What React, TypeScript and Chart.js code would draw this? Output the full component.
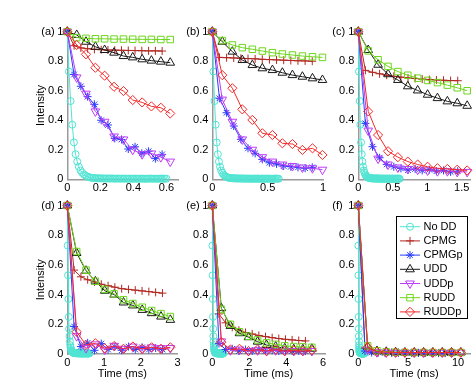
import React, { useEffect, useRef } from 'react';
import { Chart, registerables } from 'chart.js';

Chart.register(...registerables);

// ---------------- DATA ----------------
const SERIES_NAMES = ['No DD', 'CPMG', 'CPMGp', 'UDD', 'UDDp', 'RUDD', 'RUDDp'];
const Y_TICKS = [0, 0.2, 0.4, 0.6, 0.8, 1];

// No DD (same in every panel)
const NODD_T = [
  0, 0.01, 0.02, 0.03, 0.04, 0.05, 0.06, 0.07, 0.08, 0.09,
  0.1, 0.11, 0.12, 0.13, 0.14, 0.15, 0.16, 0.17, 0.18, 0.19,
  0.2, 0.21, 0.22, 0.23, 0.24, 0.25, 0.26, 0.27, 0.28, 0.29,
  0.3, 0.31, 0.32, 0.33, 0.34, 0.35, 0.36, 0.37, 0.38, 0.39,
  0.4, 0.41, 0.42, 0.43, 0.44, 0.45, 0.46, 0.47, 0.48, 0.49,
  0.5, 0.51, 0.52, 0.53, 0.54, 0.55, 0.56, 0.57, 0.58, 0.59,
  0.6,
];
const NODD = [
  1, 0.73, 0.53, 0.37, 0.25, 0.17, 0.12, 0.085, 0.06, 0.045,
  0.033, 0.025, 0.019, 0.015, 0.012, 0.01, 0.009, 0.008, 0.007, 0.007,
  0.006, 0.006, 0.006, 0.005, 0.006, 0.005, 0.005, 0.006, 0.005, 0.004,
  0.005, 0.005, 0.004, 0.005, 0.004, 0.005, 0.004, 0.004, 0.005, 0.004,
  0.004, 0.005, 0.004, 0.004, 0.004, 0.005, 0.004, 0.004, 0.004, 0.004,
  0.005, 0.004, 0.004, 0.004, 0.004, 0.004, 0.004, 0.005, 0.004, 0.004,
  0.004,
];

// Panel (a)
const A_XTICKS = [0, 0.2, 0.4, 0.6];
const A_XMAX = 0.67;
const A_T = [0, 0.057, 0.113, 0.17, 0.226, 0.283, 0.34, 0.396, 0.453, 0.509, 0.566, 0.623];
const A_TP = [0, 0.041, 0.082, 0.123, 0.164, 0.205, 0.246, 0.287, 0.328, 0.369, 0.41, 0.451, 0.492, 0.533, 0.574];
const A_CPMG = [1, 0.905, 0.89, 0.885, 0.88, 0.878, 0.876, 0.875, 0.874, 0.873, 0.872, 0.871, 0.87, 0.87, 0.869];
const A_CPMGP = [1, 0.71, 0.63, 0.56, 0.508, 0.4, 0.368, 0.277, 0.27, 0.205, 0.22, 0.176, 0.19, 0.14, 0.169];
const A_UDD = [1, 0.978, 0.932, 0.898, 0.876, 0.858, 0.835, 0.826, 0.813, 0.804, 0.797, 0.79];
const A_UDDP = [1, 0.69, 0.58, 0.46, 0.39, 0.29, 0.27, 0.2, 0.17, 0.175, 0.15, 0.12];
const A_RUDD = [1, 0.96, 0.955, 0.952, 0.952, 0.95, 0.95, 0.949, 0.948, 0.948, 0.947, 0.947];
const A_RUDDP = [1, 0.91, 0.847, 0.756, 0.702, 0.627, 0.598, 0.537, 0.521, 0.494, 0.485, 0.446];

// Panel (b)
const B_XTICKS = [0, 0.5, 1];
const B_XMAX = 1;
const B_T = [0, 0.09, 0.181, 0.271, 0.362, 0.452, 0.543, 0.633, 0.724, 0.814, 0.905, 0.995];
const B_TP = [0, 0.0645, 0.129, 0.1935, 0.258, 0.3225, 0.387, 0.4515, 0.516, 0.5805, 0.645, 0.7095, 0.774, 0.8385, 0.903];
const B_CPMG = [1, 0.826, 0.824, 0.822, 0.82, 0.818, 0.816, 0.813, 0.811, 0.809, 0.807, 0.805, 0.803, 0.802, 0.8];
const B_CPMGP = [1, 0.549, 0.451, 0.361, 0.271, 0.21, 0.176, 0.135, 0.112, 0.104, 0.09, 0.085, 0.081, 0.075, 0.081];
const B_UDD = [1, 0.932, 0.865, 0.808, 0.774, 0.752, 0.74, 0.722, 0.706, 0.695, 0.684, 0.673];
const B_UDDP = [1, 0.54, 0.39, 0.27, 0.2, 0.15, 0.12, 0.1, 0.09, 0.08, 0.075, 0.065];
const B_RUDD = [1, 0.94, 0.91, 0.892, 0.881, 0.869, 0.858, 0.849, 0.842, 0.835, 0.83, 0.826];
const B_RUDDP = [1, 0.706, 0.617, 0.474, 0.402, 0.312, 0.3, 0.244, 0.239, 0.199, 0.21, 0.165];

// Panel (c)
const C_XTICKS = [0, 0.5, 1, 1.5];
const C_XMAX = 1.62;
const C_T = [0, 0.144, 0.287, 0.431, 0.574, 0.718, 0.861, 1.005, 1.148, 1.292, 1.435, 1.579];
const C_TP = [0, 0.103, 0.206, 0.309, 0.412, 0.515, 0.618, 0.721, 0.824, 0.927, 1.03, 1.133, 1.236, 1.339, 1.442];
const C_CPMG = [1, 0.738, 0.725, 0.715, 0.705, 0.698, 0.692, 0.687, 0.683, 0.679, 0.676, 0.673, 0.671, 0.669, 0.668];
const C_CPMGP = [1, 0.379, 0.221, 0.146, 0.101, 0.085, 0.074, 0.063, 0.07, 0.06, 0.065, 0.055, 0.06, 0.05, 0.055];
const C_UDD = [1, 0.876, 0.776, 0.712, 0.673, 0.63, 0.602, 0.573, 0.55, 0.528, 0.515, 0.498];
const C_UDDP = [1, 0.33, 0.14, 0.1, 0.08, 0.07, 0.065, 0.06, 0.055, 0.055, 0.05, 0.05];
const C_RUDD = [1, 0.87, 0.81, 0.765, 0.73, 0.705, 0.685, 0.67, 0.655, 0.638, 0.62, 0.6];
const C_RUDDP = [1, 0.46, 0.3, 0.19, 0.15, 0.12, 0.1, 0.085, 0.075, 0.07, 0.065, 0.06];

// Panel (d)
const D_XTICKS = [0, 1, 2, 3];
const D_XMAX = 3;
const D_T = [0, 0.255, 0.51, 0.765, 1.02, 1.275, 1.53, 1.785, 2.04, 2.295, 2.55, 2.805];
const D_TP = [0, 0.185, 0.37, 0.555, 0.74, 0.925, 1.11, 1.295, 1.48, 1.665, 1.85, 2.035, 2.22, 2.405, 2.59];
const D_CPMG = [1, 0.565, 0.52, 0.5, 0.485, 0.47, 0.46, 0.45, 0.44, 0.435, 0.43, 0.425, 0.42, 0.415, 0.41];
const D_CPMGP = [1, 0.185, 0.05, 0.075, 0.025, 0.07, 0.03, 0.05, 0.025, 0.05, 0.03, 0.045, 0.03, 0.04, 0.03];
const D_UDD = [1, 0.68, 0.561, 0.489, 0.426, 0.4, 0.347, 0.327, 0.297, 0.275, 0.252, 0.23];
const D_UDDP = [1, 0.12, 0.04, 0.065, 0.03, 0.055, 0.035, 0.05, 0.035, 0.045, 0.04, 0.04];
const D_RUDD = [1, 0.69, 0.565, 0.49, 0.435, 0.405, 0.365, 0.34, 0.315, 0.293, 0.272, 0.252];
const D_RUDDP = [1, 0.15, 0.061, 0.072, 0.038, 0.054, 0.035, 0.05, 0.035, 0.045, 0.035, 0.045];

// Panel (e)
const E_XTICKS = [0, 2, 4, 6];
const E_XMAX = 6.1;
const E_T = [0, 0.49, 0.98, 1.47, 1.96, 2.45, 2.94, 3.43, 3.92, 4.41, 4.9, 5.39];
const E_TP = [0, 0.36, 0.72, 1.08, 1.44, 1.8, 2.16, 2.52, 2.88, 3.24, 3.6, 3.96, 4.32, 4.68, 5.04];
const E_CPMG = [1, 0.27, 0.21, 0.18, 0.16, 0.145, 0.135, 0.125, 0.117, 0.11, 0.104, 0.099, 0.095, 0.091, 0.088];
const E_CPMGP = [1, 0.07, 0.03, 0.035, 0.02, 0.03, 0.02, 0.03, 0.02, 0.025, 0.02, 0.025, 0.02, 0.02, 0.02];
const E_UDD = [1, 0.309, 0.189, 0.14, 0.113, 0.083, 0.06, 0.05, 0.038, 0.032, 0.032, 0.035];
const E_UDDP = [1, 0.085, 0.025, 0.03, 0.02, 0.025, 0.02, 0.025, 0.02, 0.02, 0.02, 0.02];
const E_RUDD = [1, 0.3, 0.2, 0.15, 0.12, 0.095, 0.075, 0.065, 0.055, 0.05, 0.048, 0.045];
const E_RUDDP = [1, 0.08, 0.03, 0.035, 0.02, 0.03, 0.02, 0.03, 0.02, 0.025, 0.02, 0.025];

// Panel (f)
const F_XTICKS = [0, 5, 10];
const F_XMAX = 11.2;
const F_T = [0, 0.935, 1.87, 2.805, 3.74, 4.675, 5.61, 6.545, 7.48, 8.415, 9.35, 10.285];
const F_TP = [0, 0.67, 1.34, 2.01, 2.68, 3.35, 4.02, 4.69, 5.36, 6.03, 6.7, 7.37, 8.04, 8.71, 9.38];
const F_CPMG = [1, 0.04, 0.02, 0.015, 0.012, 0.01, 0.01, 0.009, 0.009, 0.008, 0.008, 0.008, 0.007, 0.007, 0.007];
const F_CPMGP = [1, 0.02, 0.01, 0.01, 0.008, 0.008, 0.008, 0.007, 0.007, 0.007, 0.006, 0.006, 0.006, 0.006, 0.006];
const F_UDD = [1, 0.05, 0.02, 0.015, 0.012, 0.01, 0.01, 0.01, 0.01, 0.01, 0.01, 0.01];
const F_UDDP = [1, 0.03, 0.012, 0.01, 0.01, 0.01, 0.01, 0.01, 0.01, 0.01, 0.01, 0.01];
const F_RUDD = [1, 0.055, 0.022, 0.015, 0.012, 0.011, 0.01, 0.01, 0.01, 0.01, 0.01, 0.01];
const F_RUDDP = [1, 0.045, 0.015, 0.012, 0.01, 0.01, 0.01, 0.01, 0.01, 0.01, 0.01, 0.01];

// ---------------- STYLE / LAYOUT ----------------
const W = 476;
const H = 382;
const FONT = "'Liberation Sans', Arial, Helvetica, sans-serif";
const AXIS_COLOR = '#9a9a9a';
const COLORS = [
  'rgb(80,228,210)',
  'rgb(178,40,34)',
  'rgb(40,60,250)',
  'rgb(25,25,25)',
  'rgb(190,60,250)',
  'rgb(110,215,30)',
  'rgb(245,40,40)',
];
const MARKERS = ['circle', 'cross', 'star', 'triangle', 'triangleDown', 'rect', 'rectRot'];
const RADII = [3.5, 4, 4, 5, 5, 4.6, 4.6];
const YW = 40;
const XH = 28;

const TOP_ROW = { t: 31.7, b: 179.3 };
const BOT_ROW = { t: 205.5, b: 354 };

const PANELS = [
  { id: '(a)', t: A_T, tp: A_TP, s: [A_CPMG, A_CPMGP, A_UDD, A_UDDP, A_RUDD, A_RUDDP], xticks: A_XTICKS, xmax: A_XMAX, box: { l: 67.3, r: 178, ...TOP_ROW }, yTitle: true, xTitle: false, legend: false },
  { id: '(b)', t: B_T, tp: B_TP, s: [B_CPMG, B_CPMGP, B_UDD, B_UDDP, B_RUDD, B_RUDDP], xticks: B_XTICKS, xmax: B_XMAX, box: { l: 212.3, r: 323, ...TOP_ROW }, yTitle: false, xTitle: false, legend: false },
  { id: '(c)', t: C_T, tp: C_TP, s: [C_CPMG, C_CPMGP, C_UDD, C_UDDP, C_RUDD, C_RUDDP], xticks: C_XTICKS, xmax: C_XMAX, box: { l: 358.3, r: 471, ...TOP_ROW }, yTitle: false, xTitle: false, legend: false },
  { id: '(d)', t: D_T, tp: D_TP, s: [D_CPMG, D_CPMGP, D_UDD, D_UDDP, D_RUDD, D_RUDDP], xticks: D_XTICKS, xmax: D_XMAX, box: { l: 67.3, r: 177.5, ...BOT_ROW }, yTitle: true, xTitle: true, legend: false },
  { id: '(e)', t: E_T, tp: E_TP, s: [E_CPMG, E_CPMGP, E_UDD, E_UDDP, E_RUDD, E_RUDDP], xticks: E_XTICKS, xmax: E_XMAX, box: { l: 212.3, r: 325, ...BOT_ROW }, yTitle: false, xTitle: true, legend: false },
  { id: '(f)', t: F_T, tp: F_TP, s: [F_CPMG, F_CPMGP, F_UDD, F_UDDP, F_RUDD, F_RUDDP], xticks: F_XTICKS, xmax: F_XMAX, box: { l: 358.3, r: 470, ...BOT_ROW }, yTitle: false, xTitle: true, legend: true },
];

const fmt = (v: number) => String(Math.round(v * 1000) / 1000);

function drawMarker(ctx: CanvasRenderingContext2D, style: string, x: number, y: number, r: number) {
  ctx.beginPath();
  if (style === 'circle') {
    ctx.arc(x, y, r, 0, Math.PI * 2);
  } else if (style === 'cross') {
    ctx.moveTo(x - r, y); ctx.lineTo(x + r, y);
    ctx.moveTo(x, y - r); ctx.lineTo(x, y + r);
  } else if (style === 'star') {
    const d = r * Math.SQRT1_2;
    ctx.moveTo(x - r, y); ctx.lineTo(x + r, y);
    ctx.moveTo(x, y - r); ctx.lineTo(x, y + r);
    ctx.moveTo(x - d, y - d); ctx.lineTo(x + d, y + d);
    ctx.moveTo(x - d, y + d); ctx.lineTo(x + d, y - d);
  } else if (style === 'triangle' || style === 'triangleDown') {
    const s = style === 'triangle' ? 1 : -1;
    const a = (r * Math.sqrt(3)) / 2;
    ctx.moveTo(x, y - s * r);
    ctx.lineTo(x + a, y + s * r / 2);
    ctx.lineTo(x - a, y + s * r / 2);
    ctx.closePath();
  } else if (style === 'rect') {
    const s = r * Math.SQRT1_2;
    ctx.rect(x - s, y - s, 2 * s, 2 * s);
  } else if (style === 'rectRot') {
    ctx.moveTo(x, y - r); ctx.lineTo(x + r, y); ctx.lineTo(x, y + r); ctx.lineTo(x - r, y);
    ctx.closePath();
  }
  ctx.stroke();
}

function overlayPlugin(p: any) {
  return {
    id: 'overlay',
    afterDraw(chart: any) {
      const ctx = chart.ctx as CanvasRenderingContext2D;
      const ca = chart.chartArea;
      ctx.save();
      ctx.font = `11px ${FONT}`;
      ctx.fillStyle = '#000';
      ctx.textAlign = 'left';
      ctx.textBaseline = 'middle';
      ctx.fillText(p.id, ca.left - 26, ca.top);
      if (p.legend) {
        const bx = 396.5, by = 216.5, bw = 71, bh = 102;
        ctx.fillStyle = '#fff';
        ctx.fillRect(bx, by, bw, bh);
        ctx.strokeStyle = '#000';
        ctx.lineWidth = 1;
        ctx.strokeRect(bx, by, bw, bh);
        SERIES_NAMES.forEach((name, i) => {
          const yy = 226.7 + 14.2 * i;
          ctx.strokeStyle = COLORS[i];
          ctx.lineWidth = 1;
          ctx.beginPath();
          ctx.moveTo(400, yy);
          ctx.lineTo(420, yy);
          ctx.stroke();
          drawMarker(ctx, MARKERS[i], 410, yy, RADII[i]);
          ctx.fillStyle = '#000';
          ctx.fillText(name, 423.5, yy);
        });
      }
      ctx.restore();
    },
  };
}

function buildConfig(p: any) {
  const pairs: [number[], number[]][] = [
    [NODD_T, NODD],
    [p.tp, p.s[0]],
    [p.tp, p.s[1]],
    [p.t, p.s[2]],
    [p.t, p.s[3]],
    [p.t, p.s[4]],
    [p.t, p.s[5]],
  ];
  const datasets = SERIES_NAMES.map((name, i) => {
    const [xs, ys] = pairs[i];
    const m = MARKERS[i];
    return {
      label: name,
      data: xs.map((x, k) => ({ x, y: ys[k] })),
      borderColor: COLORS[i],
      backgroundColor: 'rgba(0,0,0,0)',
      borderWidth: 1,
      pointStyle: m === 'triangleDown' ? 'triangle' : m,
      pointRotation: m === 'triangleDown' ? 180 : 0,
      pointRadius: RADII[i],
      pointBorderColor: COLORS[i],
      pointBackgroundColor: 'rgba(0,0,0,0)',
      pointBorderWidth: 1,
      tension: 0,
      fill: false,
      clip: 10,
      order: 6 - i,
    };
  });
  const tickFont = { family: FONT, size: 11 };
  return {
    type: 'line',
    data: { datasets },
    options: {
      responsive: false,
      animation: false,
      devicePixelRatio: 1,
      events: [],
      layout: {
        padding: { left: p.box.l - YW, right: W - p.box.r, top: p.box.t, bottom: H - p.box.b - XH },
      },
      plugins: { legend: { display: false }, tooltip: { enabled: false } },
      scales: {
        x: {
          type: 'linear',
          min: 0,
          max: p.xmax,
          grid: { display: false, drawTicks: false },
          border: { display: true, color: AXIS_COLOR, width: 1.5 },
          afterBuildTicks: (s: any) => { s.ticks = p.xticks.map((v: number) => ({ value: v })); },
          ticks: { color: '#000', font: tickFont, padding: 2, maxRotation: 0, autoSkip: false, includeBounds: false, callback: (v: number) => fmt(v) },
          title: { display: p.xTitle, text: 'Time (ms)', color: '#000', font: tickFont, padding: { top: 0, bottom: 1.4 } },
          afterFit: (s: any) => { s.height = XH; },
        },
        y: {
          type: 'linear',
          min: 0,
          max: 1,
          grid: { display: false, drawTicks: false },
          border: { display: true, color: AXIS_COLOR, width: 1.5 },
          afterBuildTicks: (s: any) => { s.ticks = Y_TICKS.map((v) => ({ value: v })); },
          ticks: { color: '#000', font: tickFont, padding: 4, autoSkip: false, callback: (v: number) => fmt(v) },
          title: { display: p.yTitle, text: 'Intensity', color: '#000', font: tickFont, padding: { top: 7.1, bottom: 0 } },
          afterFit: (s: any) => { s.width = YW; },
        },
      },
    },
    plugins: [overlayPlugin(p)],
  };
}

function Panel({ p }: { p: any }) {
  const ref = useRef<HTMLCanvasElement | null>(null);
  useEffect(() => {
    if (!ref.current) return;
    const chart = new Chart(ref.current, buildConfig(p) as any);
    return () => chart.destroy();
  }, [p]);
  return (
    <canvas
      ref={ref}
      width={W}
      height={H}
      style={{ position: 'absolute', left: 0, top: 0, width: W, height: H }}
    />
  );
}

export default function App() {
  return (
    <div style={{ position: 'fixed', left: 0, top: 0, width: W, height: H, background: '#fff', overflow: 'hidden' }}>
      {PANELS.map((p) => (
        <Panel key={p.id} p={p} />
      ))}
    </div>
  );
}
